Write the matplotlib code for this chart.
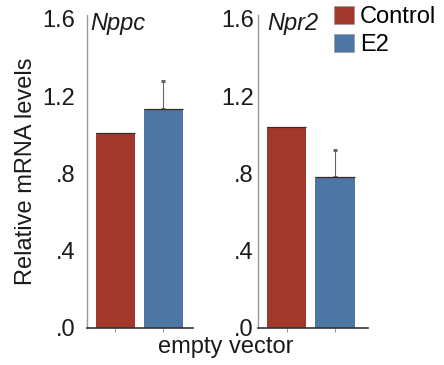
import matplotlib
matplotlib.use("Agg")
import matplotlib.pyplot as plt
from matplotlib.patches import Patch

plt.rcParams['font.family'] = ['Liberation Sans', 'DejaVu Sans']

genes = ["Nppc", "Npr2"]
groups = ["Control", "E2"]
values = {"Nppc": [1.01, 1.135], "Npr2": [1.04, 0.78]}
errors = {"Nppc": [0.0, 0.145], "Npr2": [0.0, 0.14]}
colors = ["#A2382B", "#4D76A4"]
yticks = [0.0, 0.4, 0.8, 1.2, 1.6]
yticklabels = [".0", ".4", ".8", "1.2", "1.6"]
xlabel = "empty vector"
ylabel = "Relative mRNA levels"

W, H = 444, 365
fig = plt.figure(figsize=(W / 100, H / 100), dpi=100)

FS = 17
ybot = 327.5
ax_boxes = [
    [87 / W, 1 - ybot / H, (193 - 87) / W, 312.5 / H],
    [258.3 / W, 1 - ybot / H, (368 - 258.3) / W, 312.5 / H],
]
xlims = [(-0.59, 1.615), (-0.588, 1.683)]
ypads = [8.6, 3.2]
title_dx = [3.5, 8.5]

for gi, gene in enumerate(genes):
    ax = fig.add_axes(ax_boxes[gi])
    x = list(range(len(groups)))
    vals = values[gene]
    errs = errors[gene]
    ax.bar(x, vals, width=0.81, color=colors, edgecolor="none", zorder=2)
    ax.hlines(vals, [xi - 0.405 for xi in x], [xi + 0.405 for xi in x],
              color="#3b2a28", linewidth=0.9, zorder=3)
    for xi, v, e in zip(x, vals, errs):
        if e > 0:
            ax.errorbar([xi], [v], yerr=[[0], [e]], fmt="none", ecolor="#666666",
                        elinewidth=0.8, capsize=1.2, capthick=2.2, zorder=1)
    ax.set_ylim(0, 1.62)
    ax.set_xlim(*xlims[gi])
    ax.set_yticks(yticks)
    ax.set_yticklabels(yticklabels, fontsize=FS, color="#1a1a1a")
    ax.tick_params(axis="y", length=0, pad=ypads[gi])
    ax.set_xticks(x)
    ax.set_xticklabels([])
    ax.tick_params(axis="x", length=3, width=0.6, color="#888888", direction="out")
    for s in ["top", "right"]:
        ax.spines[s].set_visible(False)
    ax.spines["left"].set_color("#999999")
    ax.spines["left"].set_linewidth(1.0)
    ax.spines["bottom"].set_color("#333333")
    ax.spines["bottom"].set_linewidth(1.2)
    bx = ax_boxes[gi][0] + title_dx[gi] / W
    fig.text(bx, 1 - 30 / H, gene, fontsize=FS, style="italic",
             va="baseline", ha="left", color="#1a1a1a")
    if gi == 0:
        ax.set_ylabel(ylabel, fontsize=FS, color="#1a1a1a", labelpad=4)

fig.text(226 / W, 1 - 353 / H, xlabel, fontsize=FS, ha="center", va="baseline", color="#1a1a1a")

handles = [Patch(facecolor=c, edgecolor="#999999", linewidth=0.5) for c in colors]
fig.legend(handles, groups, loc="upper left", bbox_to_anchor=(334 / W, 1 - 6 / H),
           frameon=False, fontsize=FS, handlelength=0.85, handleheight=0.8,
           handletextpad=0.25, labelspacing=0.25, borderpad=0, borderaxespad=0)

fig.savefig("out.png", dpi=100)
